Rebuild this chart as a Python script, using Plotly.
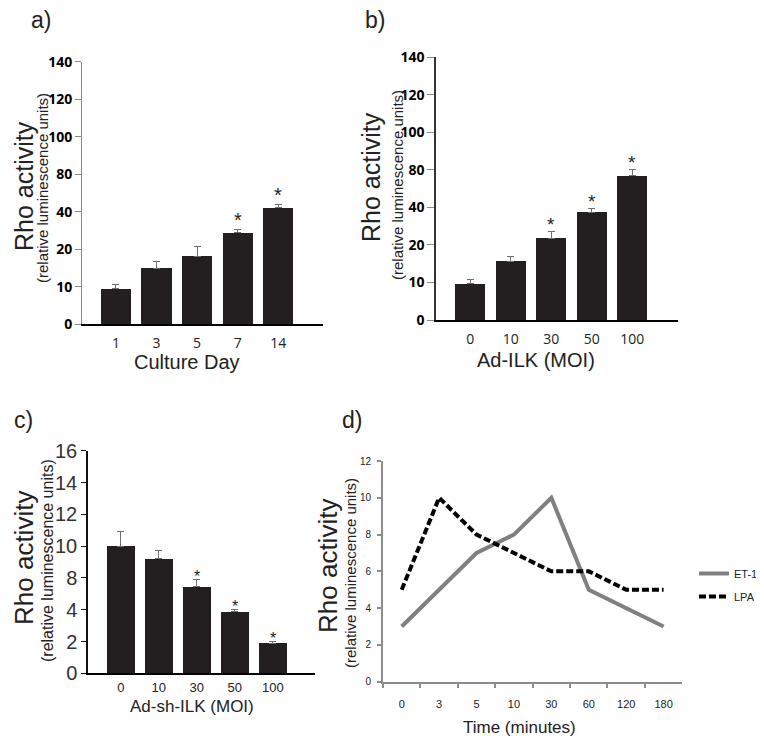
import numpy as np
import plotly.graph_objects as go

W, H = 764, 744
OFF = 8  # page body margin
FW, FH = W - OFF, H - OFF

# ---------------- data ----------------
# panel a
a_cats = ["1", "3", "5", "7", "14"]
a_vals = [9.5, 15.0, 18.2, 28.8, 44.4]
a_sem = [1.1, 1.8, 3.4, 2.0, 3.6]
a_sig = [False, False, False, True, True]
ab_ticks = [0, 10, 20, 40, 80, 100, 120, 140]

# panel b
b_cats = ["0", "10", "30", "50", "100"]
b_vals = [9.6, 15.7, 23.4, 37.5, 73.6]
b_sem = [1.1, 1.2, 3.8, 2.1, 6.4]
b_sig = [False, False, True, True, True]

# panel c
c_cats = ["0", "10", "30", "50", "100"]
c_vals = [10.0, 9.2, 6.9, 3.9, 1.9]
c_sem = [0.9, 0.5, 0.85, 0.18, 0.08]
c_sig = [False, False, True, True, True]
c_ticks = [0, 2, 4, 8, 10, 12, 14, 16]

# panel d
d_cats = ["0", "3", "5", "10", "30", "60", "120", "180"]
d_et1 = [3, 5, 7, 8, 10, 5, 4, 3]
d_lpa = [5, 10, 8, 7, 6, 6, 5, 5]
d_ticks = [0, 2, 4, 6, 8, 10, 12]


def px_x(p):
    return (p - OFF) / FW


def px_y(p):
    return 1 - (p - OFF) / FH


def pos(vals, ticks):
    return np.interp(vals, ticks, np.arange(len(ticks)))


fig = go.Figure()
annotations = []

BAR = "#231f20"
ERR = "#6e6e6e"


def bar_panel(idx, cats, vals, sem, sig, ticks, star_shift, star_size):
    top = pos(vals, ticks)
    up = pos(np.array(vals) + np.array(sem), ticks)
    fig.add_trace(go.Bar(
        x=cats, y=top, marker=dict(color=BAR, line=dict(width=0)),
        error_y=dict(type="data", symmetric=False, array=list(up - top),
                     arrayminus=[0] * len(cats), color=ERR, thickness=1, width=3.5),
        xaxis="x" + idx, yaxis="y" + idx, showlegend=False, width=0.74,
    ))
    for i, (u, s) in enumerate(zip(up, sig)):
        if s:
            annotations.append(dict(
                x=i, y=float(u), xref="x" + idx, yref="y" + idx, text="*", showarrow=False,
                yshift=star_shift, font=dict(family="Liberation Sans", size=star_size, color="#222")))


bar_panel("", a_cats, a_vals, a_sem, a_sig, ab_ticks, 9, 20)
bar_panel("2", b_cats, b_vals, b_sem, b_sig, ab_ticks, 7, 19)
bar_panel("3", c_cats, c_vals, c_sem, c_sig, c_ticks, 3, 16)

fig.add_trace(go.Scatter(
    x=d_cats, y=d_et1, mode="lines", name="ET-1",
    line=dict(color="#808080", width=4), xaxis="x4", yaxis="y4", legendgroup="g1"))
fig.add_trace(go.Scatter(
    x=d_cats, y=d_lpa, mode="lines", name="LPA",
    line=dict(color="#000000", width=4, dash="7px,3px"), xaxis="x4", yaxis="y4", legendgroup="g2"))

TICKFONT_AB = dict(family="Open Sans", size=14, color="#000", weight="bold")
XTICKFONT = dict(family="Open Sans", size=14, color="#222")

common = dict(automargin=False, showgrid=False, zeroline=False)

layout = dict(
    width=FW, height=FH, margin=dict(l=0, r=0, t=0, b=0, autoexpand=False),
    paper_bgcolor="white", plot_bgcolor="white",
    bargap=0,
    # panel a
    xaxis=dict(domain=[px_x(82), px_x(323)], range=[-0.835, 5.10], type="category",
               showline=True, linecolor="#000", linewidth=2, ticks="", ticklabelstandoff=5,
               tickfont=XTICKFONT, anchor="y", **common),
    yaxis=dict(domain=[px_y(324.3), px_y(61.7)], range=[0, 7], tickvals=list(range(len(ab_ticks))),
               ticktext=[str(t) for t in ab_ticks], showline=True, linecolor="#8a8a8a", linewidth=1,
               ticks="outside", ticklen=6, tickcolor="#8a8a8a",
               tickfont=TICKFONT_AB, anchor="x", **common),
    # panel b
    xaxis2=dict(domain=[px_x(436), px_x(677.7)], range=[-0.847, 5.12], type="category",
                showline=True, linecolor="#000", linewidth=2, ticks="", ticklabelstandoff=5,
                tickfont=XTICKFONT, anchor="y2", **common),
    yaxis2=dict(domain=[px_y(320), px_y(57.3)], range=[0, 7], tickvals=list(range(len(ab_ticks))),
                ticktext=[str(t) for t in ab_ticks], showline=True, linecolor="#333", linewidth=1.5,
                ticks="outside", ticklen=7, tickcolor="#8a8a8a",
                tickfont=TICKFONT_AB, anchor="x2", **common),
    # panel c
    xaxis3=dict(domain=[px_x(88), px_x(315)], range=[-0.863, 5.11], type="category",
                showline=True, linecolor="#000", linewidth=2, ticks="", ticklabelstandoff=1,
                tickfont=dict(family="Liberation Sans", size=13, color="#222"), anchor="y3", **common),
    yaxis3=dict(domain=[px_y(673.3), px_y(450.7)], range=[0, 7], tickvals=list(range(len(c_ticks))),
                ticktext=[str(t) for t in c_ticks], showline=True, linecolor="#111", linewidth=1.5,
                ticks="outside", ticklen=5, tickcolor="#111",
                tickfont=dict(family="Liberation Sans", size=20, color="#333"), anchor="x3", **common),
    # panel d
    xaxis4=dict(domain=[px_x(383), px_x(682.3)], range=[-0.5, 7.5], type="category",
                showline=True, linecolor="#8c8c8c", linewidth=2, ticks="outside", ticklen=4,
                tickcolor="#8c8c8c", tickwidth=2, tickson="boundaries", ticklabelstandoff=11,
                tickfont=dict(family="Liberation Sans", size=11, color="#222"), anchor="y4", **common),
    yaxis4=dict(domain=[px_y(681.7), px_y(461)], range=[0, 12], tickvals=d_ticks,
                showline=True, linecolor="#8c8c8c", linewidth=2, ticks="outside", ticklen=4,
                tickcolor="#8c8c8c", tickwidth=1.5, ticklabelstandoff=4,
                tickfont=dict(family="Liberation Sans", size=10, color="#222"), anchor="x4", **common),
    legend=dict(x=px_x(694), y=px_y(559), xanchor="left", yanchor="top",
                font=dict(family="Liberation Sans", size=11, color="#222"),
                bgcolor="rgba(0,0,0,0)", tracegroupgap=4, itemwidth=30),
    showlegend=True,
)


def txt(x, y, s, size, angle=0, family="Liberation Sans", color="#222"):
    annotations.append(dict(x=px_x(x), y=px_y(y), xref="paper", yref="paper", text=s,
                            showarrow=False, textangle=angle, xanchor="center", yanchor="middle",
                            borderpad=0, font=dict(family=family, size=size, color=color)))


# panel labels
txt(41, 20, "a)", 23)
txt(375, 20, "b)", 23)
txt(23, 420, "c)", 23)
txt(352, 420, "d)", 23)

# y titles
txt(24, 186, "Rho activity", 25, -90)
txt(43, 188, "(relative luminescence units)", 15, -90)
txt(371, 177, "Rho activity", 25, -90)
txt(397, 185, "(relative luminescence units)", 15, -90)
txt(24, 558, "Rho activity", 26, -90)
txt(47, 561, "(relative luminescence units)", 16, -90)
txt(328, 566, "Rho activity", 26, -90)
txt(350, 573, "(relative luminescence units)", 15, -90)

# x titles
txt(187, 362, "Culture Day", 20)
txt(536, 360, "Ad-ILK (MOI)", 20)
txt(192, 706, "Ad-sh-ILK (MOI)", 17)
txt(519, 727, "Time (minutes)", 17)

layout["annotations"] = annotations
fig.update_layout(**layout)
fig.write_html("out.html")
